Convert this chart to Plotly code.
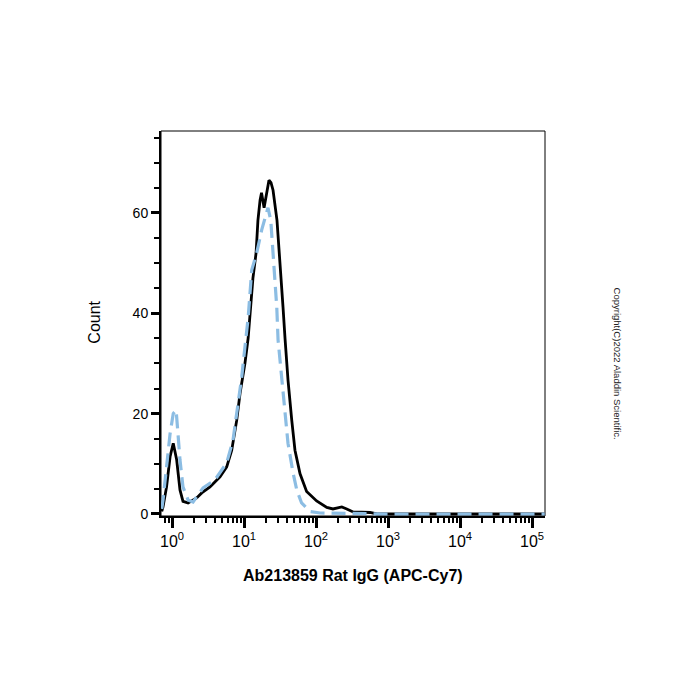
import plotly.graph_objects as go

# Sample (solid black) histogram: intensity vs count
sample_x = [0.72, 0.75, 0.84, 0.94, 1.04, 1.16, 1.29, 1.42, 1.67, 2.2, 2.59, 3.37, 4.64, 5.75,
            6.75, 7.92, 8.8, 10.3, 11.4, 12.1, 13.3, 14.7, 15.6, 16.7, 17.5, 19.0, 20.5, 22.2,
            23.7, 25.3, 28.7, 31.6, 34.8, 37.1, 40.8, 46, 51, 60, 74, 102, 141, 172, 228, 267,
            327, 562, 703, 2000, 10000, 60000, 150000]
sample_y = [0.5, 1.4, 5.4, 11.4, 14.1, 10.8, 4.8, 2.5, 2.2, 3.2, 4.2, 5.4, 7.4, 9.4,
            12.7, 18.7, 24, 30, 35, 40, 47, 52, 58.5, 62.5, 64, 61, 64, 66.5,
            66, 64.5, 58.5, 50.6, 41.2, 35, 26.7, 18.7, 12.7, 8, 4.5, 2.6, 1.3, 1, 1.4, 1,
            0.4, 0.3, 0, 0, 0, 0, 0]

# Isotype control (dashed blue) histogram
control_x = [0.72, 0.75, 0.84, 0.94, 1.04, 1.14, 1.21, 1.29, 1.42, 1.67, 1.96, 2.70, 3.95, 5.75,
             7.03, 7.92, 9.29, 10.3, 11.4, 12.8, 15.0, 17.6, 19.6, 21.5, 23.5, 25.1, 27.0,
             28.5, 29.7, 33.4, 37.1, 40.8, 48, 54, 63, 82.5, 114, 1000, 10000, 150000]
control_y = [1, 2.8, 9.4, 16, 20, 20.7, 16, 10.8, 5.4, 2.8, 2.4, 5.2, 6.8, 10.2,
             14.7, 20, 27.3, 33.3, 39, 48.6, 52, 56.6, 59, 61, 58.6, 53, 46.6,
             41.2, 34.7, 27.3, 20, 14.1, 8.2, 4.8, 2.2, 0.5, 0.2, 0, 0, 0]

x_tick_vals = [1, 10, 100, 1000, 10000, 100000]
x_tick_text = ["10<sup>0</sup>", "10<sup>1</sup>", "10<sup>2</sup>",
               "10<sup>3</sup>", "10<sup>4</sup>", "10<sup>5</sup>"]
x_minor_vals = [m * 10 ** k for k in range(-1, 5) for m in range(2, 10)
                if 0.7 < m * 10 ** k < 151000]
y_tick_vals = [0, 20, 40, 60]

x_title = "Ab213859 Rat IgG (APC-Cy7)"
y_title = "Count"
copyright_text = "Copyright(C)2022 Aladdin Scientific."

FONT = "Liberation Sans, Arial, sans-serif"

fig = go.Figure()
fig.add_trace(go.Scatter(x=sample_x, y=sample_y, mode="lines",
                         line=dict(color="black", width=2.8), hoverinfo="skip"))
fig.add_trace(go.Scatter(x=control_x, y=control_y, mode="lines",
                         line=dict(color="#8cbde3", width=3.2, dash="14px,7px"),
                         hoverinfo="skip"))

fig.update_layout(
    width=700, height=700,
    margin=dict(l=161, r=155, t=131, b=184),
    paper_bgcolor="white", plot_bgcolor="white",
    showlegend=False,
    font=dict(family=FONT, color="black", size=13),
    xaxis=dict(
        type="log", range=[-0.153, 5.18],
        tickvals=x_tick_vals, ticktext=x_tick_text,
        ticks="outside", ticklen=10, tickwidth=3, tickcolor="black",
        showline=True, linecolor="black", linewidth=2,
        showgrid=False, zeroline=False,
        tickfont=dict(size=16, family=FONT),
        minor=dict(tickvals=x_minor_vals, ticks="outside", ticklen=5,
                   tickwidth=2, tickcolor="black", showgrid=False),
    ),
    yaxis=dict(
        range=[-0.4, 76.3],
        tickvals=y_tick_vals,
        ticks="outside", ticklen=8, tickwidth=3, tickcolor="black",
        showline=True, linecolor="black", linewidth=2,
        showgrid=False, zeroline=False,
        tickfont=dict(size=14, family=FONT),
        minor=dict(dtick=5, ticks="outside", ticklen=5, tickwidth=2,
                   tickcolor="black", showgrid=False),
    ),
    shapes=[dict(type="rect", xref="paper", yref="paper", x0=0, x1=1, y0=0, y1=1,
                 line=dict(color="black", width=1), layer="below")],
    annotations=[
        dict(text=y_title, xref="paper", yref="paper", x=-0.2, y=0.504,
             textangle=-90, showarrow=False, font=dict(size=16, family=FONT)),
        dict(text="<b>" + x_title + "</b>", xref="paper", yref="paper", x=0.5, y=-0.183,
             showarrow=False, font=dict(size=16, family=FONT)),
        dict(text=copyright_text, xref="paper", yref="paper", x=1.208, y=0.395,
             textangle=90, showarrow=False, font=dict(size=9.5, family=FONT, color="#222")),
    ],
)

fig.write_html("out.html")
